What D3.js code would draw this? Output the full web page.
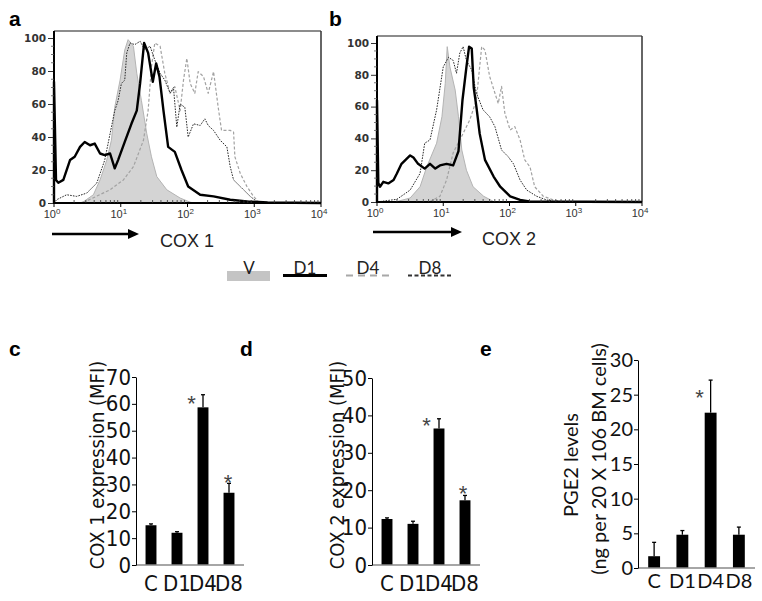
<!DOCTYPE html>
<html>
<head>
<meta charset="utf-8">
<script src="https://cdn.jsdelivr.net/npm/d3@7"></script>
<style>
  html, body { margin: 0; padding: 0; background: #fff; }
  svg { display: block; }
</style>
</head>
<body>
<svg id="chart" width="762" height="601"></svg>
<script>
// ---------------- DATA ----------------
// Histogram series: [log10 fluorescence, % of max]
const seriesNames = ["V", "D1", "D4", "D8"];

const cox1_V = [[0.39,0],[0.45,1],[0.59,5],[0.69,14],[0.79,26],[0.86,38],[0.91,58],[0.99,74.5],[1.06,92.7],[1.11,99],[1.19,95],[1.24,78.6],[1.31,62],[1.39,42],[1.46,28],[1.54,16],[1.69,8],[1.89,3],[2.04,0.5],[2.1,0]];
const cox1_D1 = [[0,0],[0,73.5],[0.03,14],[0.065,12.3],[0.14,14],[0.24,26],[0.31,28],[0.39,34],[0.46,37],[0.54,35],[0.61,36],[0.69,30],[0.76,29],[0.84,30],[0.91,21],[0.96,26],[1.06,37],[1.16,48],[1.24,56],[1.29,72.5],[1.35,97],[1.41,91],[1.48,73.5],[1.53,84.6],[1.58,76.6],[1.64,56],[1.71,34],[1.81,31],[1.91,20],[2.01,10],[2.19,5],[2.39,4],[2.64,2],[2.89,1],[3.2,0.3],[4,0]];
const cox1_D4 = [[0.44,0.3],[0.84,8],[1.04,14],[1.19,22],[1.34,38],[1.41,56],[1.46,82.6],[1.51,97],[1.59,95],[1.66,78.6],[1.74,66.5],[1.81,70.5],[1.89,56],[1.94,74.5],[1.99,87.7],[2.04,72.5],[2.11,66.5],[2.16,79.6],[2.24,76.6],[2.31,66.5],[2.39,79.6],[2.46,58],[2.51,44],[2.64,44],[2.69,43],[2.71,28],[2.79,18],[2.89,10],[2.99,4],[3.06,0.8],[3.15,0]];
const cox1_D8 = [[0.02,1],[0.04,2],[0.19,5],[0.34,4],[0.49,6],[0.64,12],[0.76,26],[0.84,42],[0.91,56],[0.96,62],[1.01,72.5],[1.06,74.5],[1.09,91],[1.14,97],[1.21,96],[1.29,98],[1.36,93],[1.44,95],[1.51,86.7],[1.59,78.6],[1.66,74.5],[1.74,66.5],[1.79,70],[1.84,46],[1.89,60],[1.96,58],[2.01,40],[2.09,48],[2.19,47],[2.26,51],[2.31,47],[2.39,44],[2.49,38],[2.59,34],[2.64,22],[2.69,14],[2.84,8],[2.94,4],[3.05,0.5],[3.15,0]];

const cox2_V = [[0.25,0],[0.30,0.3],[0.50,2.5],[0.65,9.6],[0.75,22],[0.90,37],[0.98,53.6],[1.03,74.6],[1.06,97.7],[1.10,85],[1.18,70.4],[1.23,53.6],[1.28,32.7],[1.35,20],[1.45,9.6],[1.61,3.6],[1.76,0.3],[1.8,0]];
const cox2_D1 = [[0,0],[0,64],[0.02,12],[0.045,9.6],[0.095,12.7],[0.17,11.7],[0.25,13.8],[0.30,17.9],[0.37,24],[0.50,29.3],[0.55,28],[0.62,24],[0.72,21],[0.80,24],[0.88,21],[0.95,23],[1.05,24],[1.15,23],[1.23,32],[1.29,64],[1.35,85],[1.39,97.7],[1.43,96.6],[1.46,72],[1.50,60],[1.55,43],[1.63,26.5],[1.76,16],[1.86,9.6],[2.01,3.6],[2.16,1.3],[2.3,0.3],[4,0]];
const cox2_D4 = [[0.80,0.3],[0.95,3.6],[1.05,13.8],[1.15,31],[1.25,39],[1.40,51.6],[1.50,64],[1.58,97.7],[1.63,95.5],[1.70,79],[1.78,68.5],[1.83,62],[1.88,72.7],[1.93,55.8],[2.01,45.3],[2.08,47.4],[2.16,39],[2.23,26.5],[2.31,22],[2.38,9.6],[2.51,3.6],[2.66,1.3],[2.81,0]];
const cox2_D8 = [[0.045,0.3],[0.30,1.7],[0.50,7.5],[0.65,18],[0.72,37],[0.80,39],[0.90,58],[1.00,85],[1.08,91],[1.15,89],[1.20,81],[1.25,93.7],[1.30,97.7],[1.35,89],[1.43,83],[1.50,68.5],[1.60,58],[1.70,53.6],[1.78,47.4],[1.88,32.7],[1.98,28.5],[2.06,24],[2.16,13.8],[2.26,7.5],[2.41,3.6],[2.56,1.3],[2.71,0]];

const histYTicks = [0, 20, 40, 60, 80, 100];
const histDecades = [0, 1, 2, 3, 4];

// Bar charts
const barCategories = ["C", "D1", "D4", "D8"];
const cox1MFI = [14.8, 12.0, 58.7, 26.9];
const cox1Err = [0.5, 0.4, 4.7, 3.5];
const cox1Sig = [false, false, true, true];
const cox1Ticks = [0, 10, 20, 30, 40, 50, 60, 70];

const cox2MFI = [12.3, 11.0, 36.5, 17.3];
const cox2Err = [0.3, 0.7, 2.6, 1.3];
const cox2Sig = [false, false, true, true];
const cox2Ticks = [0, 10, 20, 30, 40, 50];

const pge2 = [1.7, 4.8, 22.4, 4.8];
const pge2Err = [2.0, 0.6, 4.7, 1.1];
const pge2Sig = [false, false, true, false];
const pge2Ticks = [0, 5, 10, 15, 20, 25, 30];

// ---------------- DRAWING ----------------
const svg = d3.select("#chart");
svg.append("rect").attr("width", 762).attr("height", 601).attr("fill", "#fff");

const styles = {
  V:  { fill: "#d4d4d4", stroke: "#b4b4b4", width: 1, dash: null },
  D1: { stroke: "#000", width: 2.4, dash: null },
  D4: { stroke: "#a2a2a2", width: 1.2, dash: "3,2" },
  D8: { stroke: "#2a2a2a", width: 1, dash: "1.6,1.2" }
};

function drawHist(cfg) {
  const g = svg.append("g");
  const x = d3.scaleLog().domain([1, 1e4]).range([cfg.x0, cfg.x1]);
  const y = d3.scaleLinear().domain([0, 100]).range([cfg.yBase, cfg.y100]);
  const px = d => x(Math.pow(10, d[0]));
  const py = d => y(d[1]);

  const area = d3.area().x(px).y0(y(0)).y1(py);
  g.append("path").datum(cfg.series.V).attr("d", area)
    .attr("fill", styles.V.fill).attr("stroke", styles.V.stroke).attr("stroke-width", styles.V.width);

  const line = d3.line().x(px).y(py);
  ["D4", "D8", "D1"].forEach(k => {
    g.append("path").datum(cfg.series[k]).attr("d", line)
      .attr("fill", "none").attr("stroke", styles[k].stroke)
      .attr("stroke-width", styles[k].width)
      .attr("stroke-dasharray", styles[k].dash)
      .attr("stroke-linejoin", "round");
  });

  // frame
  g.append("line").attr("x1", cfg.x0).attr("x2", cfg.x1).attr("y1", cfg.boxTop).attr("y2", cfg.boxTop)
    .attr("stroke", "#666").attr("stroke-width", 1.5);
  g.append("line").attr("x1", cfg.x1).attr("x2", cfg.x1).attr("y1", cfg.boxTop).attr("y2", cfg.yBase)
    .attr("stroke", "#333").attr("stroke-width", 1.5);
  g.append("line").attr("x1", cfg.x0).attr("x2", cfg.x0).attr("y1", cfg.boxTop).attr("y2", cfg.yBase + 1)
    .attr("stroke", "#000").attr("stroke-width", 2);
  g.append("line").attr("x1", cfg.x0).attr("x2", cfg.x1).attr("y1", cfg.yBase).attr("y2", cfg.yBase)
    .attr("stroke", "#000").attr("stroke-width", 2);

  const yAxis = d3.axisLeft(y).tickValues(histYTicks).tickSize(5).tickPadding(2).tickSizeOuter(0);
  const ya = g.append("g").attr("transform", `translate(${cfg.x0 - 1},0)`).call(yAxis);
  ya.select(".domain").remove();
  ya.selectAll("text").attr("font-family", "DejaVu Sans, sans-serif").attr("font-size", 10.5)
    .attr("font-weight", "bold").attr("fill", "#333");
  ya.selectAll("line").attr("stroke", "#333");
  d3.range(0, 101, 5).filter(v => v % 20 !== 0).forEach(v => {
    g.append("line").attr("x1", cfg.x0 - 3).attr("x2", cfg.x0).attr("y1", y(v)).attr("y2", y(v))
      .attr("stroke", "#555").attr("stroke-width", 0.8);
  });

  histDecades.forEach(e => {
    const xv = x(Math.pow(10, e));
    g.append("line").attr("x1", xv).attr("x2", xv).attr("y1", cfg.yBase).attr("y2", cfg.yBase + 4)
      .attr("stroke", "#000").attr("stroke-width", 1);
    const t = g.append("text").attr("x", xv - 2).attr("y", cfg.yBase + 15)
      .attr("text-anchor", "middle").attr("font-family", "Liberation Sans, Arial, sans-serif")
      .attr("font-size", 11).attr("fill", "#333");
    t.append("tspan").text("10");
    t.append("tspan").attr("dy", -4).attr("font-size", 8).text(String(e));
    if (e < 4) {
      d3.range(2, 10).forEach(m => {
        const xm = x(m * Math.pow(10, e));
        g.append("line").attr("x1", xm).attr("x2", xm).attr("y1", cfg.yBase).attr("y2", cfg.yBase - 3)
          .attr("stroke", "#333").attr("stroke-width", 0.8);
      });
    }
  });

  g.append("line").attr("x1", cfg.arrowX0).attr("x2", cfg.arrowX1 - 8).attr("y1", cfg.arrowY).attr("y2", cfg.arrowY)
    .attr("stroke", "#000").attr("stroke-width", 2.5);
  g.append("path").attr("d", `M${cfg.arrowX1},${cfg.arrowY} L${cfg.arrowX1 - 11},${cfg.arrowY - 5} L${cfg.arrowX1 - 11},${cfg.arrowY + 5} Z`)
    .attr("fill", "#000");
  g.append("text").attr("x", cfg.labelX).attr("y", cfg.arrowY + 13)
    .attr("font-family", "Liberation Sans, Arial, sans-serif").attr("font-size", 18).attr("fill", "#222")
    .text(cfg.label);

  svg.append("text").attr("x", cfg.letterX).attr("y", 26).attr("font-family", "Liberation Sans, Arial, sans-serif")
    .attr("font-weight", "bold").attr("font-size", 21).text(cfg.letter);
}

drawHist({
  x0: 54, x1: 321, yBase: 203, y100: 38, boxTop: 31,
  series: { V: cox1_V, D1: cox1_D1, D4: cox1_D4, D8: cox1_D8 },
  arrowX0: 52, arrowX1: 139, arrowY: 234, labelX: 160, label: "COX 1",
  letter: "a", letterX: 9
});
drawHist({
  x0: 377, x1: 642, yBase: 202, y100: 43, boxTop: 36,
  series: { V: cox2_V, D1: cox2_D1, D4: cox2_D4, D8: cox2_D8 },
  arrowX0: 373, arrowX1: 462, arrowY: 232, labelX: 482, label: "COX 2",
  letter: "b", letterX: 329
});

// Legend
const legendFont = "Lato, 'Open Sans', sans-serif";
const legendX = { V: 227, D1: 283, D4: 346, D8: 408 };
seriesNames.forEach(k => {
  const lx = legendX[k];
  if (k === "V") {
    svg.append("rect").attr("x", lx).attr("y", 271).attr("width", 43).attr("height", 10).attr("fill", "#c4c4c4");
  } else {
    const st = { D1: ["#000", 3, null], D4: ["#a8a8a8", 2, "7,5"], D8: ["#333", 1.8, "4,2.5"] }[k];
    svg.append("line").attr("x1", lx).attr("x2", lx + 44).attr("y1", 275.5).attr("y2", 275.5)
      .attr("stroke", st[0]).attr("stroke-width", st[1]).attr("stroke-dasharray", st[2]);
  }
  svg.append("text").attr("x", lx + 22).attr("y", 274).attr("text-anchor", "middle")
    .attr("font-family", legendFont).attr("font-size", 17).attr("fill", "#222").text(k);
});

// Bar panels
function drawBars(cfg) {
  const g = svg.append("g");
  const x = d3.scaleBand().domain(barCategories).range([cfg.ax + 2, cfg.xEnd])
    .paddingInner(0.58).paddingOuter(0.29);
  const y = d3.scaleLinear().domain([0, cfg.max]).range([cfg.y0, cfg.yTop]);

  g.selectAll("rect.bar").data(cfg.values).join("rect").attr("class", "bar")
    .attr("x", (d, i) => x(barCategories[i])).attr("width", x.bandwidth())
    .attr("y", d => y(d)).attr("height", d => y(0) - y(d)).attr("fill", "#000");
  cfg.values.forEach((v, i) => {
    const cx = x(barCategories[i]) + x.bandwidth() / 2;
    const top = y(v + cfg.err[i]);
    g.append("line").attr("x1", cx).attr("x2", cx).attr("y1", y(v)).attr("y2", top)
      .attr("stroke", "#000").attr("stroke-width", 1.3);
    g.append("line").attr("x1", cx - 2).attr("x2", cx + 2).attr("y1", top).attr("y2", top)
      .attr("stroke", "#000").attr("stroke-width", 1.3);
    if (cfg.sig[i]) {
      const off = cfg.star[i];
      // asterisk glyph centre sits ~0.58em above the baseline
      g.append("text").attr("x", cx + off[0]).attr("y", top + off[1] + 12.8)
        .attr("text-anchor", "middle").attr("font-family", "Liberation Sans, Arial, sans-serif")
        .attr("font-size", 22).attr("fill", "#444").text("*");
    }
  });

  g.append("line").attr("x1", cfg.ax).attr("x2", cfg.xEnd + 2).attr("y1", y(0)).attr("y2", y(0))
    .attr("stroke", "#888").attr("stroke-width", 1.5);
  const ya = g.append("g").attr("transform", `translate(${cfg.ax},0)`)
    .call(d3.axisLeft(y).tickValues(cfg.ticks).tickSize(4).tickPadding(1).tickSizeOuter(0));
  ya.select(".domain").attr("stroke", "#000").attr("stroke-width", 1);
  ya.selectAll("line").attr("stroke", "#000");
  ya.selectAll("text").attr("font-family", cfg.font).attr("font-size", cfg.fontSize).attr("fill", "#111");

  barCategories.forEach(c => {
    g.append("text").attr("x", x(c) + x.bandwidth() / 2).attr("y", cfg.catY)
      .attr("text-anchor", "middle").attr("font-family", cfg.font).attr("font-size", cfg.fontSize)
      .attr("fill", "#111").text(c);
  });

  cfg.ylabels.forEach(l => {
    g.append("text").attr("transform", `translate(${l.x},${l.y}) rotate(-90)`)
      .attr("text-anchor", "middle").attr("dominant-baseline", "central")
      .attr("font-family", cfg.font).attr("font-size", cfg.labelSize).attr("fill", "#111").text(l.text);
  });

  svg.append("text").attr("x", cfg.letterX).attr("y", 356).attr("font-family", "Liberation Sans, Arial, sans-serif")
    .attr("font-weight", "bold").attr("font-size", 21).text(cfg.letter);
}

const narrow = "'Liberation Sans Narrow', 'Arial Narrow', 'DejaVu Sans Condensed', sans-serif";
drawBars({
  values: cox1MFI, err: cox1Err, sig: cox1Sig, ticks: cox1Ticks, max: 70,
  ax: 136, xEnd: 242, y0: 565, yTop: 377, font: narrow, fontSize: 22, labelSize: 20, catY: 591,
  star: [null, null, [-11.5, 3], [-1, -6]],
  ylabels: [{ x: 97, y: 465, text: "COX 1 expression (MFI)" }],
  letter: "c", letterX: 9
});
drawBars({
  values: cox2MFI, err: cox2Err, sig: cox2Sig, ticks: cox2Ticks, max: 50,
  ax: 372, xEnd: 478, y0: 565, yTop: 378, font: narrow, fontSize: 22, labelSize: 20, catY: 591,
  star: [null, null, [-12.5, 1], [-2, -7.5]],
  ylabels: [{ x: 337, y: 465, text: "COX 2 expression (MFI)" }],
  letter: "d", letterX: 240
});
drawBars({
  values: pge2, err: pge2Err, sig: pge2Sig, ticks: pge2Ticks, max: 30,
  ax: 638, xEnd: 753, y0: 568, yTop: 360, font: "Lato, 'Open Sans', sans-serif", fontSize: 20, labelSize: 20, catY: 588,
  star: [null, null, [-11, 12], null],
  ylabels: [{ x: 570, y: 465, text: "PGE2 levels" }, { x: 598, y: 459, text: "(ng per 20 X 106 BM cells)" }],
  letter: "e", letterX: 480
});
</script>
</body>
</html>
